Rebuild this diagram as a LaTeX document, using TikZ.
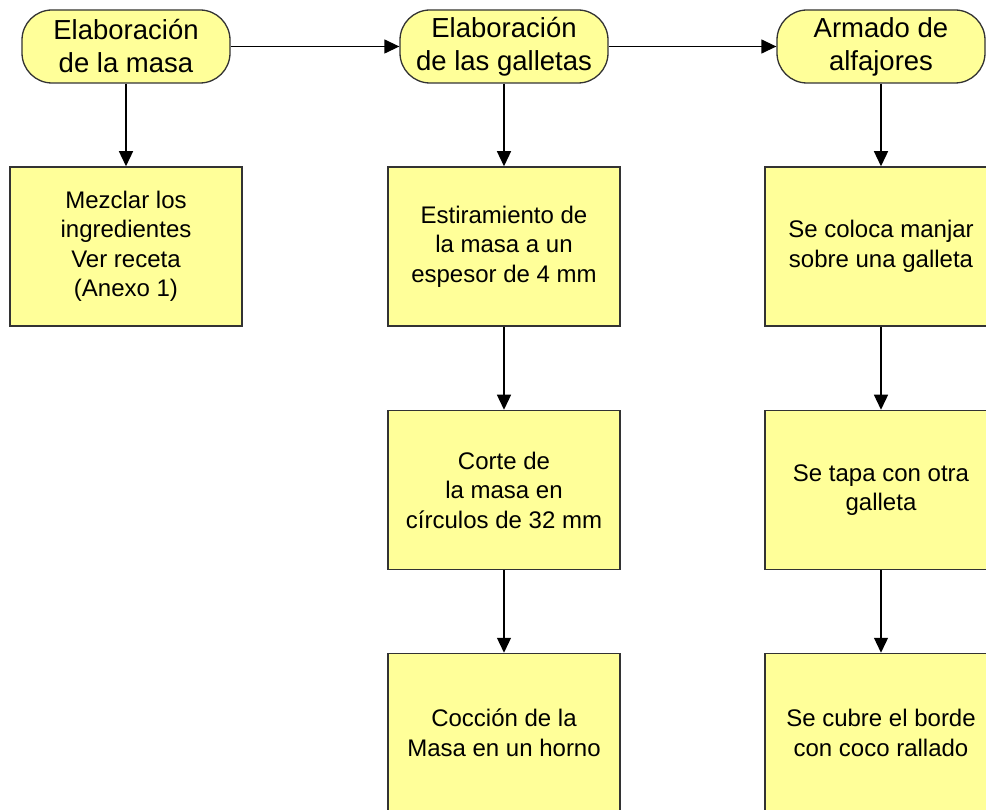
\documentclass[tikz,border=0pt]{standalone}
\usepackage{fontspec}
\setmainfont{Liberation Sans}
\usetikzlibrary{arrows.meta}
\definecolor{boxfill}{HTML}{FFFF99}
\definecolor{boxline}{HTML}{333333}
\tikzset{
  termbox/.style={draw=boxline, line width=1.3pt, fill=boxfill, rounded corners=30pt,
    minimum width=208pt, minimum height=73pt, inner sep=0pt, align=center,
    font=\fontsize{27.5}{33}\selectfont},
  stepbox/.style={draw=boxline, line width=1.5pt, fill=boxfill,
    minimum width=232pt, minimum height=159pt, inner sep=0pt, align=center,
    font=\fontsize{24}{29.5}\selectfont},
  conn/.style={draw=black, line width=1.3pt, -{Triangle[length=15pt,width=14pt]}}
}
\begin{document}
\begin{tikzpicture}[x=1pt,y=-1pt]
\useasboundingbox (0,0) rectangle (986,810);
% terminators
\node[termbox] (t1) at (126,46.5) {Elaboración\\de la masa};
\node[termbox] (t2) at (504,46.5) {Elaboración\\de las galletas};
\node[termbox] (t3) at (881,46.5) {Armado de\\alfajores};
% column 1
\node[stepbox] (a1) at (126,246.5) {Mezclar los\\ingredientes\\Ver receta\\(Anexo 1)};
% column 2
\node[stepbox] (b1) at (504,246.5) {Estiramiento de\\la masa a un\\espesor de 4 mm};
\node[stepbox] (b2) at (504,490) {Corte de\\la masa en\\círculos de 32 mm};
\node[stepbox] (b3) at (504,733) {Cocción de la\\Masa en un horno};
% column 3
\node[stepbox] (c1) at (881,246.5) {Se coloca manjar\\sobre una galleta};
\node[stepbox] (c2) at (881,490) {Se tapa con otra\\galleta};
\node[stepbox] (c3) at (881,733) {Se cubre el borde\\con coco rallado};
% connectors
\draw[conn] (t1) -- (t2);
\draw[conn] (t2) -- (t3);
\draw[conn] (t1) -- (a1);
\draw[conn] (t2) -- (b1);
\draw[conn] (b1) -- (b2);
\draw[conn] (b2) -- (b3);
\draw[conn] (t3) -- (c1);
\draw[conn] (c1) -- (c2);
\draw[conn] (c2) -- (c3);
\end{tikzpicture}
\end{document}
